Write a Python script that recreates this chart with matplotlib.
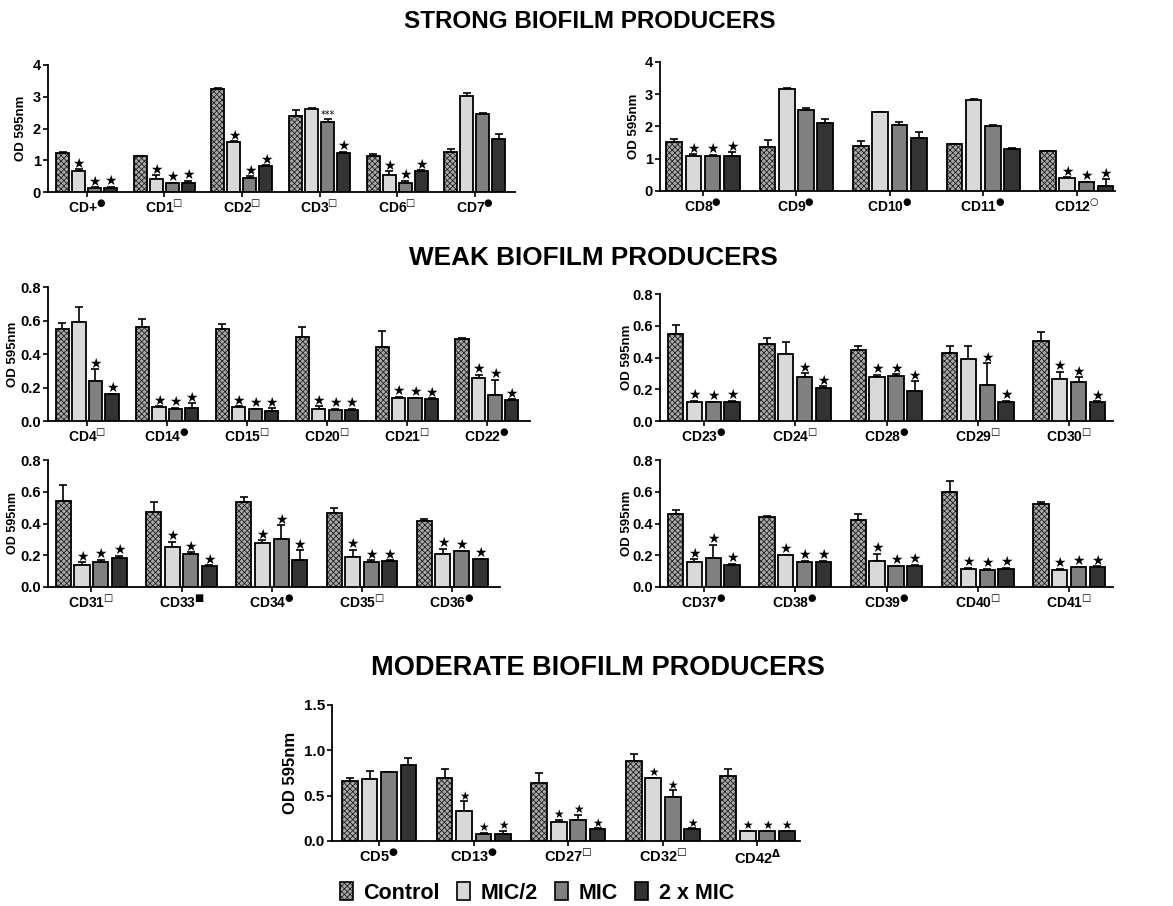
import matplotlib
matplotlib.use("Agg")
import matplotlib.pyplot as plt
from matplotlib.patches import Patch
import numpy as np

plt.rcParams["font.family"] = ["Liberation Sans", "DejaVu Sans"]
plt.rcParams["font.weight"] = "bold"
plt.rcParams["mathtext.fontset"] = "custom"
plt.rcParams["mathtext.rm"] = "DejaVu Sans:bold"
plt.rcParams["mathtext.it"] = "DejaVu Sans:bold"
plt.rcParams["mathtext.bf"] = "DejaVu Sans:bold"
plt.rcParams["mathtext.default"] = "rm"
plt.rcParams["hatch.linewidth"] = 0.6

series = ["Control", "MIC/2", "MIC", "2 x MIC"]
colors = ["#aaaaaa", "#d9d9d9", "#808080", "#333333"]

# ---- strong producers ----
strong_a_names = ["CD+", "CD1", "CD2", "CD3", "CD6", "CD7"]
strong_a_marks = ["●", "□", "□", "□", "□", "●"]
strong_a_vals = [[1.22, 0.65, 0.12, 0.12],
                 [1.13, 0.40, 0.27, 0.27],
                 [3.24, 1.57, 0.45, 0.82],
                 [2.40, 2.60, 2.20, 1.22],
                 [1.12, 0.53, 0.27, 0.65],
                 [1.27, 3.03, 2.45, 1.67]]
strong_a_err = [[0.04, 0.07, 0.03, 0.04],
                [0.01, 0.12, 0.02, 0.08],
                [0.03, 0.03, 0.04, 0.02],
                [0.17, 0.05, 0.10, 0.04],
                [0.08, 0.12, 0.08, 0.04],
                [0.09, 0.10, 0.04, 0.17]]
strong_a_sig = [["", "★", "★", "★"],
                ["", "★", "★", "★"],
                ["", "★", "★", "★"],
                ["", "", "***", "★"],
                ["", "★", "★", "★"],
                ["", "", "", ""]]

strong_b_names = ["CD8", "CD9", "CD10", "CD11", "CD12"]
strong_b_marks = ["●", "●", "●", "●", "○"]
strong_b_vals = [[1.51, 1.07, 1.10, 1.10],
                 [1.37, 3.17, 2.50, 2.10],
                 [1.39, 2.44, 2.04, 1.64],
                 [1.45, 2.83, 2.01, 1.31],
                 [1.23, 0.40, 0.27, 0.14]]
strong_b_err = [[0.10, 0.07, 0.03, 0.10],
                [0.20, 0.01, 0.06, 0.13],
                [0.15, 0.01, 0.10, 0.18],
                [0.02, 0.01, 0.04, 0.02],
                [0.02, 0.02, 0.02, 0.22]]
strong_b_sig = [["", "★", "★", "★"],
                ["", "", "", ""],
                ["", "", "", ""],
                ["", "", "", ""],
                ["", "★", "★", "★"]]

# ---- weak producers ----
weak_a_names = ["CD4", "CD14", "CD15", "CD20", "CD21", "CD22"]
weak_a_marks = ["□", "●", "□", "□", "□", "●"]
weak_a_vals = [[0.55, 0.59, 0.24, 0.16],
               [0.56, 0.085, 0.072, 0.080],
               [0.55, 0.082, 0.070, 0.060],
               [0.50, 0.070, 0.068, 0.063],
               [0.44, 0.140, 0.135, 0.130],
               [0.49, 0.255, 0.157, 0.125]]
weak_a_err = [[0.035, 0.09, 0.07, 0.003],
              [0.05, 0.003, 0.007, 0.025],
              [0.03, 0.005, 0.003, 0.015],
              [0.06, 0.017, 0.005, 0.010],
              [0.10, 0.005, 0.004, 0.006],
              [0.008, 0.022, 0.09, 0.005]]
weak_a_sig = [["", "", "★", "★"]] + [["", "★", "★", "★"]] * 5

weak_b_names = ["CD23", "CD24", "CD28", "CD29", "CD30"]
weak_b_marks = ["●", "□", "●", "□", "□"]
weak_b_vals = [[0.545, 0.120, 0.118, 0.122],
               [0.485, 0.420, 0.280, 0.210],
               [0.450, 0.280, 0.283, 0.190],
               [0.430, 0.390, 0.228, 0.120],
               [0.505, 0.265, 0.245, 0.120]]
weak_b_err = [[0.06, 0.008, 0.004, 0.004],
              [0.035, 0.08, 0.02, 0.01],
              [0.025, 0.01, 0.01, 0.06],
              [0.04, 0.08, 0.135, 0.008],
              [0.055, 0.045, 0.03, 0.004]]
weak_b_sig = [["", "★", "★", "★"],
              ["", "", "★", "★"],
              ["", "★", "★", "★"],
              ["", "", "★", "★"],
              ["", "★", "★", "★"]]

weak_c_names = ["CD31", "CD33", "CD34", "CD35", "CD36"]
weak_c_marks = ["□", "■", "●", "□", "●"]
weak_c_vals = [[0.540, 0.140, 0.155, 0.180],
               [0.475, 0.250, 0.210, 0.135],
               [0.535, 0.275, 0.300, 0.170],
               [0.465, 0.190, 0.160, 0.165],
               [0.415, 0.210, 0.225, 0.175]]
weak_c_err = [[0.10, 0.015, 0.015, 0.015],
              [0.06, 0.035, 0.008, 0.002],
              [0.03, 0.02, 0.09, 0.06],
              [0.03, 0.045, 0.007, 0.003],
              [0.015, 0.03, 0.004, 0.003]]
weak_c_sig = [["", "★", "★", "★"]] * 5

weak_d_names = ["CD37", "CD38", "CD39", "CD40", "CD41"]
weak_d_marks = ["●", "●", "●", "□", "□"]
weak_d_vals = [[0.460, 0.155, 0.185, 0.140],
               [0.440, 0.200, 0.160, 0.160],
               [0.425, 0.165, 0.130, 0.133],
               [0.600, 0.115, 0.110, 0.115],
               [0.525, 0.110, 0.125, 0.128]]
weak_d_err = [[0.025, 0.02, 0.08, 0.005],
              [0.01, 0.004, 0.005, 0.005],
              [0.035, 0.045, 0.005, 0.008],
              [0.065, 0.005, 0.004, 0.005],
              [0.01, 0.004, 0.003, 0.003]]
weak_d_sig = [["", "★", "★", "★"]] * 5

# ---- moderate producers ----
mod_names = ["CD5", "CD13", "CD27", "CD32", "CD42"]
mod_marks = ["●", "●", "□", "□", "Δ"]
mod_vals = [[0.660, 0.680, 0.760, 0.840],
            [0.700, 0.330, 0.080, 0.080],
            [0.640, 0.210, 0.230, 0.130],
            [0.885, 0.690, 0.480, 0.130],
            [0.720, 0.110, 0.110, 0.110]]
mod_err = [[0.03, 0.09, 0.005, 0.07],
           [0.09, 0.11, 0.01, 0.03],
           [0.11, 0.025, 0.06, 0.01],
           [0.08, 0.01, 0.08, 0.01],
           [0.07, 0.005, 0.005, 0.005]]
mod_sig = [["", "", "", ""],
           ["", "★", "★", "★"],
           ["", "★", "★", "★"],
           ["", "★", "★", "★"],
           ["", "★", "★", "★"]]

W, H = 1173, 906
fig = plt.figure(figsize=(W / 100, H / 100), dpi=100)

PITCH = 0.206
BARW = 0.167


def panel(box, xlim, ylim, yticks, names, marks, vals, errs, sigs,
          lab_x, fs=10, star_fs=10, ylab_fs=9.5, yfmt="{:.1f}"):
    l, t, r, b = box
    ax = fig.add_axes([l / W, 1 - b / H, (r - l) / W, (b - t) / H])
    vals = np.array(vals)
    errs = np.array(errs)
    x = np.arange(len(names))
    for j in range(4):
        xs = x + (j - 1.5) * PITCH
        if j == 0:
            ax.bar(xs, vals[:, j], BARW, color=colors[0], edgecolor="#222222",
                   hatch="xxxxxx", linewidth=0, zorder=2)
            ax.bar(xs, vals[:, j], BARW, fill=False, edgecolor="black",
                   linewidth=1.3, zorder=3)
        else:
            ax.bar(xs, vals[:, j], BARW, color=colors[j], edgecolor="black",
                   linewidth=1.3, zorder=3)
        ax.errorbar(xs, vals[:, j], yerr=[np.zeros(len(xs)), errs[:, j]],
                    fmt="none", ecolor="black", elinewidth=1.2, capsize=2.8,
                    capthick=1.2, zorder=1)
        for i in range(len(names)):
            s = sigs[i][j]
            if not s:
                continue
            top = vals[i, j] + errs[i, j]
            if s == "★":
                ax.annotate(s, (xs[i], top), xytext=(0, -1), textcoords="offset points",
                            ha="center", va="bottom", fontsize=star_fs,
                            family=["DejaVu Sans"], annotation_clip=False)
            else:
                ax.annotate(s, (xs[i], top), xytext=(0, -1), textcoords="offset points",
                            ha="center", va="bottom", fontsize=7, fontweight="normal",
                            family=["DejaVu Sans"], annotation_clip=False)
    ax.set_xlim(*xlim)
    ax.set_ylim(*ylim)
    ax.set_yticks(yticks)
    ax.set_yticklabels([yfmt.format(v) for v in yticks], fontsize=fs + 0.5, fontweight="bold")
    ax.set_xticks(x)
    # label with the group symbol as a superscript
    ax.set_xticklabels([f"{n}$^{{{m}}}$" for n, m in zip(names, marks)],
                       fontsize=fs, fontweight="bold")
    for s in ["top", "right"]:
        ax.spines[s].set_visible(False)
    for s in ["left", "bottom"]:
        ax.spines[s].set_linewidth(1.3)
    ax.tick_params(axis="both", width=1.2, length=3.5, pad=1.5)
    ax.set_ylabel("OD 595nm", fontsize=ylab_fs, fontweight="bold")
    ax.yaxis.set_label_coords((lab_x - l) / (r - l), 0.5)
    return ax


panel((48, 65, 515, 192), (-0.50, 5.52), (0, 4), [0, 1, 2, 3, 4],
      strong_a_names, strong_a_marks, strong_a_vals, strong_a_err, strong_a_sig,
      27, yfmt="{:.0f}")
panel((660, 62, 1115, 191), (-0.46, 4.41), (0, 4), [0, 1, 2, 3, 4],
      strong_b_names, strong_b_marks, strong_b_vals, strong_b_err, strong_b_sig,
      640, yfmt="{:.0f}")
panel((48, 287, 530, 421), (-0.49, 5.54), (0, 0.8), [0, 0.2, 0.4, 0.6, 0.8],
      weak_a_names, weak_a_marks, weak_a_vals, weak_a_err, weak_a_sig, 19)
panel((660, 294, 1113, 421), (-0.48, 4.48), (0, 0.8), [0, 0.2, 0.4, 0.6, 0.8],
      weak_b_names, weak_b_marks, weak_b_vals, weak_b_err, weak_b_sig, 633)
panel((48, 460, 500, 587), (-0.48, 4.53), (0, 0.8), [0, 0.2, 0.4, 0.6, 0.8],
      weak_c_names, weak_c_marks, weak_c_vals, weak_c_err, weak_c_sig, 19, ylab_fs=9)
panel((660, 460, 1113, 587), (-0.48, 4.48), (0, 0.8), [0, 0.2, 0.4, 0.6, 0.8],
      weak_d_names, weak_d_marks, weak_d_vals, weak_d_err, weak_d_sig, 633)
panel((332, 705, 800, 841), (-0.50, 4.45), (0, 1.5), [0, 0.5, 1.0, 1.5],
      mod_names, mod_marks, mod_vals, mod_err, mod_sig, 298, fs=10.5,
      star_fs=8.5, ylab_fs=12)

fig.text(590 / W, 1 - 22 / H, "STRONG BIOFILM PRODUCERS", ha="center", va="center",
         fontsize=17.5, fontweight="bold")
fig.text(593 / W, 1 - 258 / H, "WEAK BIOFILM PRODUCERS", ha="center", va="center",
         fontsize=18.8, fontweight="bold")
fig.text(598 / W, 1 - 668 / H, "MODERATE BIOFILM PRODUCERS", ha="center", va="center",
         fontsize=19.5, fontweight="bold")

handles = []
for j in range(4):
    if j == 0:
        handles.append((Patch(facecolor=colors[0], edgecolor="#222222", hatch="xxxxxx",
                              linewidth=0),
                        Patch(fill=False, edgecolor="black", linewidth=1.2)))
    else:
        handles.append(Patch(facecolor=colors[j], edgecolor="black", linewidth=1.2))
fig.legend(handles, series, ncol=4, loc="center", bbox_to_anchor=(537 / W, 1 - 893 / H),
           frameon=False, prop={"size": 15.5, "weight": "bold"}, handlelength=0.6,
           handleheight=0.85, handletextpad=0.5, columnspacing=0.8)

fig.savefig("out.png", dpi=100)
